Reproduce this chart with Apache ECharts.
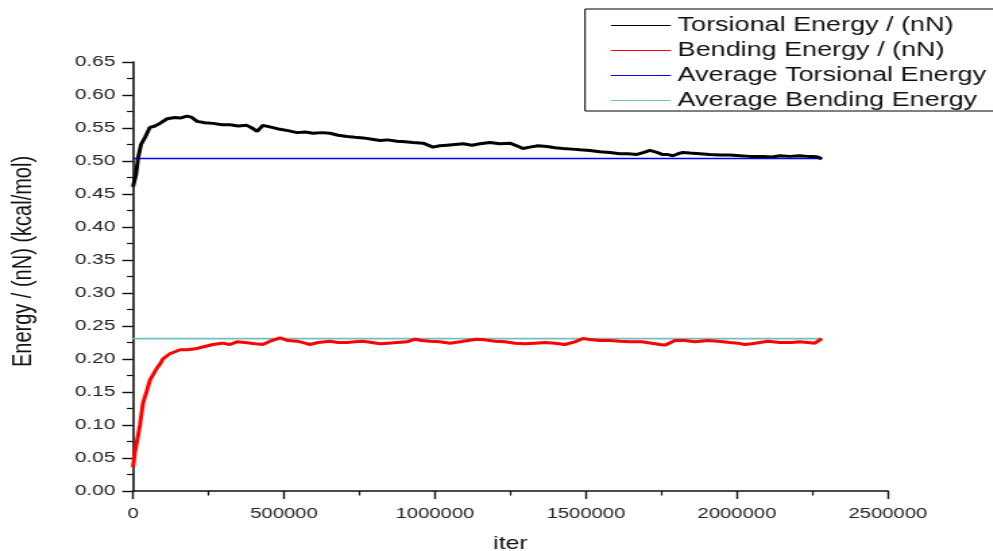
<!DOCTYPE html>
<html>
<head>
<meta charset="utf-8">
<script src="https://cdn.jsdelivr.net/npm/echarts@6/dist/echarts.min.js"></script>
<style>
html,body{margin:0;padding:0;background:#fff;overflow:hidden;width:993px;height:551px;}
#wrap{width:993px;height:551px;overflow:hidden;position:relative;}
#chart{width:736px;height:551px;transform:scaleX(1.349);transform-origin:0 0;position:absolute;left:0;top:0;}
</style>
</head>
<body>
<div id="wrap"><div id="chart"></div></div>
<script>
// iteration values and energies
const torsionIter = [0,10000,16500,26500,40000,56000,73000,89000,113000,139000,156000,179000,195000,212000,238000,265000,295000,321000,348000,377000,394000,411000,430000,460000,487000,513000,543000,570000,596000,626000,652000,679000,709000,735000,762000,791000,818000,844000,874000,901000,927000,960000,977000,993000,1016000,1040000,1066000,1093000,1122000,1149000,1182000,1215000,1248000,1271000,1291000,1314000,1341000,1371000,1397000,1424000,1454000,1480000,1513000,1546000,1579000,1612000,1639000,1669000,1692000,1712000,1735000,1752000,1768000,1788000,1805000,1821000,1844000,1877000,1910000,1944000,1977000,2010000,2043000,2086000,2116000,2142000,2175000,2208000,2235000,2251000,2268000,2281000];
const torsionEnergy = [0.461,0.480,0.504,0.525,0.536,0.551,0.553,0.557,0.564,0.566,0.565,0.568,0.566,0.560,0.558,0.557,0.555,0.555,0.553,0.554,0.550,0.545,0.554,0.551,0.548,0.546,0.543,0.544,0.542,0.543,0.542,0.539,0.537,0.536,0.535,0.533,0.531,0.532,0.530,0.529,0.528,0.527,0.524,0.521,0.523,0.524,0.525,0.526,0.524,0.526,0.528,0.526,0.527,0.523,0.519,0.521,0.523,0.522,0.520,0.519,0.518,0.517,0.516,0.514,0.513,0.511,0.511,0.510,0.513,0.516,0.513,0.510,0.510,0.508,0.511,0.513,0.512,0.511,0.510,0.509,0.509,0.508,0.507,0.507,0.506,0.508,0.507,0.508,0.507,0.507,0.506,0.503];

const bendingIter = [0,6600,13000,23000,33000,46000,56000,66000,79000,89000,99000,113000,122000,139000,156000,179000,212000,238000,265000,295000,321000,344000,371000,404000,430000,454000,487000,513000,543000,570000,586000,613000,652000,679000,709000,735000,762000,791000,818000,844000,874000,907000,934000,957000,983000,1016000,1050000,1083000,1109000,1139000,1165000,1199000,1232000,1265000,1298000,1331000,1364000,1397000,1430000,1463000,1490000,1520000,1546000,1579000,1612000,1646000,1685000,1718000,1745000,1762000,1795000,1828000,1861000,1904000,1937000,1977000,2003000,2026000,2049000,2076000,2102000,2142000,2182000,2208000,2235000,2258000,2281000];
const bendingEnergy = [0.036,0.060,0.075,0.100,0.133,0.152,0.168,0.176,0.186,0.192,0.200,0.205,0.208,0.211,0.214,0.214,0.216,0.219,0.222,0.224,0.222,0.226,0.225,0.223,0.222,0.227,0.232,0.228,0.227,0.224,0.222,0.225,0.227,0.225,0.225,0.226,0.227,0.225,0.223,0.224,0.225,0.226,0.230,0.228,0.227,0.226,0.224,0.226,0.228,0.230,0.229,0.227,0.226,0.224,0.223,0.224,0.225,0.224,0.222,0.226,0.231,0.229,0.228,0.228,0.227,0.226,0.226,0.224,0.222,0.221,0.228,0.228,0.226,0.228,0.227,0.225,0.224,0.222,0.223,0.225,0.227,0.225,0.225,0.226,0.225,0.224,0.231];

const avgIter = [0, 2281000];
const avgTorsion = [0.5036, 0.5036];
const avgBending = [0.2309, 0.2309];

const seriesNames = ['Torsional Energy / (nN)','Bending Energy / (nN)','Average Torsional Energy','Average Bending Energy'];
const xTicks = {min:0, max:2500000, interval:500000};
const yTicks = {min:0, max:0.65, interval:0.05};

const zip = (a,b) => a.map((v,i)=>[v,b[i]]);
const FONT = "'Liberation Sans', Arial, sans-serif";
const chart = echarts.init(document.getElementById('chart'), null, {renderer:'canvas'});

const axisCommon = {
  axisLine:{show:true, onZero:false, lineStyle:{color:'#111', width:1.6}},
  splitLine:{show:false},
  minorTick:{show:true, splitNumber:2, length:4.5, lineStyle:{color:'#111', width:1.2}},
  axisTick:{show:true, length:8, lineStyle:{color:'#111', width:1.4}},
};

chart.setOption({
  animation:false,
  backgroundColor:'#fff',
  textStyle:{fontFamily:FONT},
  grid:{left:98.6, right:77.8, top:62, bottom:60, containLabel:false, outerBoundsMode:'none'},
  legend:{
    orient:'vertical', left:433.7, top:9,
    data:seriesNames,
    borderColor:'#000', borderWidth:1, borderRadius:0,
    padding:[6,6,0,18.5],
    itemWidth:44.5, itemHeight:12, itemGap:4,
    itemStyle:{opacity:0},
    lineStyle:{width:1.2},
    textStyle:{fontSize:20, lineHeight:21, color:'#111', fontFamily:FONT}
  },
  xAxis:Object.assign({}, axisCommon, {
    type:'value', min:xTicks.min, max:xTicks.max, interval:xTicks.interval,
    name:'iter', nameLocation:'middle', nameGap:43,
    nameTextStyle:{fontSize:18.5, color:'#111', fontFamily:FONT},
    axisLabel:{fontSize:15, color:'#222', margin:15, fontFamily:FONT, formatter:v=>String(v)}
  }),
  yAxis:Object.assign({}, axisCommon, {
    type:'value', min:yTicks.min, max:yTicks.max, interval:yTicks.interval,
    name:'Energy / (nN) (kcal/mol)', nameLocation:'middle', nameGap:71, nameRotate:90,
    nameTextStyle:{fontSize:20, color:'#111', fontFamily:FONT, padding:[0,0,0,30]},
    axisLabel:{fontSize:15.5, color:'#222', margin:13, fontFamily:FONT, formatter:v=>v.toFixed(2)}
  }),
  series:[
    {name:seriesNames[2], type:'line', data:zip(avgIter,avgTorsion), symbol:'none', lineStyle:{color:'#0000ff', width:1.5}, itemStyle:{color:'#0000ff'}, z:1},
    {name:seriesNames[3], type:'line', data:zip(avgIter,avgBending), symbol:'none', lineStyle:{color:'#70c0c0', width:1.8}, itemStyle:{color:'#70c0c0'}, z:1},
    {name:seriesNames[0], type:'line', data:zip(torsionIter,torsionEnergy), symbol:'none', lineStyle:{color:'#000', width:3}, itemStyle:{color:'#000'}, z:3},
    {name:seriesNames[1], type:'line', data:zip(bendingIter,bendingEnergy), symbol:'none', lineStyle:{color:'#ff0000', width:3}, itemStyle:{color:'#ff0000'}, z:3}
  ]
});
</script>
</body>
</html>
